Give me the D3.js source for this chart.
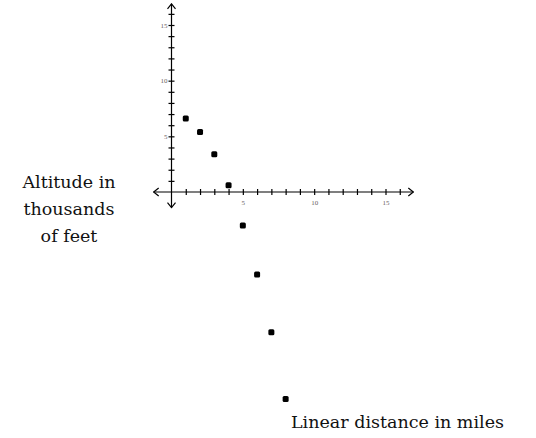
<!DOCTYPE html>
<html>
<head>
<meta charset="utf-8">
<script src="https://cdn.jsdelivr.net/npm/d3@7"></script>
<style>
  body { margin: 0; background: #fff; }
  svg { display: block; }
  .lbl { font-family: "DejaVu Serif", "Liberation Serif", serif; fill: #111; }
  .tick text { font-family: "Liberation Serif", serif; font-size: 7px; fill: #6a5f5f; }
</style>
</head>
<body>
<svg id="chart" width="536" height="438"></svg>
<script>
// distance (miles) vs altitude (thousands of feet)
const distance = [1, 2, 3, 4, 5, 6, 7, 8];
const altitude = [6.6, 5.4, 3.4, 0.6, -3.0, -7.4, -12.6, -18.6];
const xTicks = d3.range(1, 17);
const yTicks = d3.range(1, 17);
const labeled = [5, 10, 15];

const svg = d3.select("#chart");

// origin around (171.5, 192)
const x = d3.scaleLinear().domain([0, 15]).range([171.5, 385.5]);
const y = d3.scaleLinear().domain([0, 15]).range([192, 25]);

svg.append("defs").append("marker")
  .attr("id", "arr")
  .attr("viewBox", "-6 -5 7 10")
  .attr("refX", 0).attr("refY", 0)
  .attr("markerWidth", 7).attr("markerHeight", 10)
  .attr("markerUnits", "userSpaceOnUse")
  .attr("orient", "auto-start-reverse")
  .append("path")
  .attr("d", "M-5,-4L0,0L-5,4")
  .attr("fill", "none")
  .attr("stroke", "#000")
  .attr("stroke-width", 1.2);

// x axis
const xAxis = svg.append("g")
  .attr("transform", `translate(0,${y(0)})`)
  .call(d3.axisBottom(x).tickValues(xTicks)
    .tickSize(3)
    .tickFormat(d => labeled.includes(d) ? d : ""));
xAxis.select(".domain").remove();
xAxis.selectAll(".tick line").attr("y1", -3).attr("y2", 3).attr("stroke-width", 1.2);
xAxis.selectAll(".tick text").attr("y", 8);

svg.append("line")
  .attr("x1", x(-1.25)).attr("x2", x(16.95))
  .attr("y1", y(0)).attr("y2", y(0))
  .attr("stroke", "#000").attr("stroke-width", 1.2)
  .attr("marker-start", "url(#arr)")
  .attr("marker-end", "url(#arr)");

// y axis
const yAxis = svg.append("g")
  .attr("transform", `translate(${x(0)},0)`)
  .call(d3.axisLeft(y).tickValues(yTicks)
    .tickSize(3)
    .tickFormat(d => labeled.includes(d) ? d : ""));
yAxis.select(".domain").remove();
yAxis.selectAll(".tick line").attr("x1", -3).attr("x2", 3).attr("stroke-width", 1.2);
yAxis.selectAll(".tick text").attr("x", -4);

svg.append("line")
  .attr("x1", x(0)).attr("x2", x(0))
  .attr("y1", y(-1.4)).attr("y2", y(16.9))
  .attr("stroke", "#000").attr("stroke-width", 1.2)
  .attr("marker-start", "url(#arr)")
  .attr("marker-end", "url(#arr)");

// points
svg.selectAll("rect.pt")
  .data(distance)
  .join("rect")
  .attr("class", "pt")
  .attr("x", d => x(d) - 3)
  .attr("y", (d, i) => y(altitude[i]) - 3)
  .attr("width", 6)
  .attr("height", 6)
  .attr("rx", 1.5)
  .attr("fill", "#000");

// axis titles
const yTitle = svg.append("text")
  .attr("class", "lbl")
  .attr("text-anchor", "middle")
  .attr("font-size", 17.5);
["Altitude in", "thousands", "of feet"].forEach((t, i) => {
  yTitle.append("tspan").attr("x", 69).attr("y", 188 + i * 27).text(t);
});

svg.append("text")
  .attr("class", "lbl")
  .attr("x", 291)
  .attr("y", 428)
  .attr("font-size", 17.5)
  .text("Linear distance in miles");
</script>
</body>
</html>
